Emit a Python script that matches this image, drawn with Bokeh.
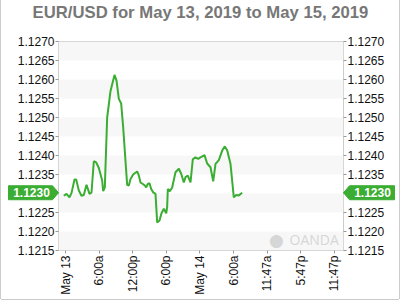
import math
from bokeh.plotting import figure
from bokeh.models import (FixedTicker, LinearAxis, Range1d, BoxAnnotation,
                          Label, PrintfTickFormatter)
from bokeh.core.properties import value
from bokeh.embed import file_html
from bokeh.resources import INLINE

# ---- data (hours since May 13 00:00, EUR/USD rate) ----
hours = [-0.30, 0.18, 0.71, 1.07, 1.61, 1.91, 2.38, 2.86, 3.27, 3.75, 4.29, 4.64,
         5.06, 5.48, 5.95, 6.55, 6.73, 7.02, 7.44, 8.04, 8.75, 9.11, 9.52, 9.94,
         10.30, 10.71, 11.01, 11.31, 11.61, 12.08, 12.80, 13.10, 13.39, 13.81,
         14.17, 14.40, 14.70, 15.00, 15.30, 15.65, 16.07, 16.37, 16.79, 17.14,
         17.56, 17.98, 18.15, 18.27, 18.63, 19.05, 19.64, 20.24, 20.66, 21.13,
         21.43, 21.84, 22.32, 22.73, 23.21, 23.69, 24.11, 24.82, 25.30, 25.89,
         26.37, 26.79, 27.38, 27.98, 28.45, 28.88, 29.46, 29.76, 30.05, 30.48,
         30.95, 31.55]
rates = [1.12294, 1.12299, 1.12290, 1.12301, 1.12337, 1.12337, 1.12308, 1.12294,
         1.12296, 1.12323, 1.12299, 1.12302, 1.12385, 1.12382, 1.12367, 1.12334,
         1.12306, 1.12316, 1.12500, 1.12570, 1.12612, 1.12597, 1.12549, 1.12537,
         1.12474, 1.12386, 1.12323, 1.12321, 1.12338, 1.12350, 1.12358, 1.12347,
         1.12329, 1.12325, 1.12321, 1.12316, 1.12325, 1.12327, 1.12312, 1.12303,
         1.12299, 1.12224, 1.12229, 1.12248, 1.12260, 1.12248, 1.12264, 1.12312,
         1.12306, 1.12316, 1.12356, 1.12365, 1.12352, 1.12329, 1.12343, 1.12347,
         1.12329, 1.12390, 1.12395, 1.12391, 1.12395, 1.12401, 1.12379, 1.12369,
         1.12332, 1.12378, 1.12388, 1.12413, 1.12424, 1.12413, 1.12378, 1.12334,
         1.12290, 1.12296, 1.12295, 1.12302]
x_ticks = [0, 6, 12, 18, 24, 30, 36, 42, 48]
x_labels = ["May 13", "6:00a", "12:00p", "6:00p", "May 14", "6:00a",
            "11:47a", "5:47p", "11:47p"]
y_ticks = [1.1215, 1.1220, 1.1225, 1.1230, 1.1235, 1.1240, 1.1245, 1.1250,
           1.1255, 1.1260, 1.1265, 1.1270]
title = "EUR/USD for May 13, 2019 to May 15, 2019"
current = rates[-1]

GREEN = "#3aad32"
FONT = "Liberation Sans"

# main canvas is 398x299, placed at x=1 of the window (1px border around)
W, H = 398, 299
FL, FR, FT, FB = 57, 342, 41, 250
x0, x1 = -1.25, 49.64
y0, y1 = y_ticks[0], y_ticks[-1]

p = figure(width=W, height=H, output_backend="svg", toolbar_location=None,
           x_range=Range1d(x0, x1), y_range=Range1d(y0, y1),
           min_border_left=FL, min_border_right=W - FR,
           min_border_top=FT, min_border_bottom=H - FB,
           y_axis_location=None)
p.margin = (0, 0, 0, 1)
p.styles = {"box-shadow": "-1px 0 0 0 #cccccc, 1px 0 0 0 #cccccc, 0 1px 0 0 #cccccc"}

p.background_fill_color = "white"
p.border_fill_color = "white"
p.outline_line_color = "#cccccc"
p.xgrid.grid_line_color = None
p.ygrid.grid_line_color = None

# alternating bands
for i in range(0, len(y_ticks) - 1, 2):
    p.add_layout(BoxAnnotation(bottom=y_ticks[i], top=y_ticks[i + 1],
                               fill_color="#f7f7f7", fill_alpha=1,
                               line_alpha=0, level="underlay"))


def style_axis(ax):
    ax.axis_line_color = None
    ax.major_tick_line_color = "#999999"
    ax.major_tick_out = 3
    ax.major_tick_in = 0
    ax.minor_tick_line_color = None
    ax.major_label_text_font = FONT
    ax.major_label_text_font_size = "12px"
    ax.major_label_text_color = "#111111"
    ax.major_label_standoff = 2


for side in ("left", "right"):
    ax = LinearAxis(ticker=FixedTicker(ticks=y_ticks),
                    formatter=PrintfTickFormatter(format="%.4f"))
    style_axis(ax)
    ax.major_label_standoff = 1
    p.add_layout(ax, side)

xa = p.xaxis[0]
xa.ticker = FixedTicker(ticks=x_ticks)
xa.major_label_overrides = {t: l for t, l in zip(x_ticks, x_labels)}
xa.major_label_orientation = math.pi / 2
style_axis(xa)

p.line(hours, rates, line_color=GREEN, line_width=2)


def dx(px):
    return x0 + (px - FL) / (FR - FL) * (x1 - x0)


def dy(py):
    return y0 + (FB - py) / (FB - FT) * (y1 - y0)


# watermark (inside frame)
p.add_layout(Label(x=dx(275), y=dy(239), text="\u25cf", text_color="#d6d6d6",
                   text_font="DejaVu Sans", text_font_size="17px",
                   text_align="center", text_baseline="middle"))
p.add_layout(Label(x=dx(288), y=dy(239), text="OANDA", text_color="#d6d6d6",
                   text_font="Open Sans", text_font_size="14px",
                   text_align="left", text_baseline="middle"))

# title as a canvas-positioned label in the top panel
p.add_layout(Label(x=W / 2, y=12, x_units="canvas", y_units="canvas",
                   text=title, text_font=FONT, text_font_size="16.7px",
                   text_font_style="bold", text_color="#777777",
                   text_align="center", text_baseline="middle"), "above")

# ---- transparent overlay (separate root) for the current-price flags ----
q = figure(width=400, height=300, output_backend="svg", toolbar_location=None,
           x_range=Range1d(0, 400), y_range=Range1d(300, 0),
           min_border=0, x_axis_location=None, y_axis_location=None)
q.grid.visible = False
q.outline_line_color = None
q.background_fill_alpha = 0
q.border_fill_alpha = 0
q.styles = {"position": "absolute", "left": "0px", "top": "0px",
            "pointer-events": "none"}

cy = FB - (current - y0) / (y1 - y0) * (FB - FT)   # pixel row of last price
hh = 7
left_flag = ([8, 52, 58, 52, 8], [cy - hh, cy - hh, cy, cy + hh, cy + hh])
right_flag = ([394, 349, 343, 349, 394], [cy - hh, cy - hh, cy, cy + hh, cy + hh])
q.patches([left_flag[0], right_flag[0]], [left_flag[1], right_flag[1]],
          fill_color=GREEN, line_color=GREEN, line_width=1)
q.text(x=[31, 372], y=[cy, cy], text=[f"{current:.4f}"] * 2,
       text_color="white", text_font=value(FONT), text_font_style="bold",
       text_font_size="12px", text_align="center", text_baseline="middle")

open("out.html", "w").write(file_html([p, q], INLINE))
